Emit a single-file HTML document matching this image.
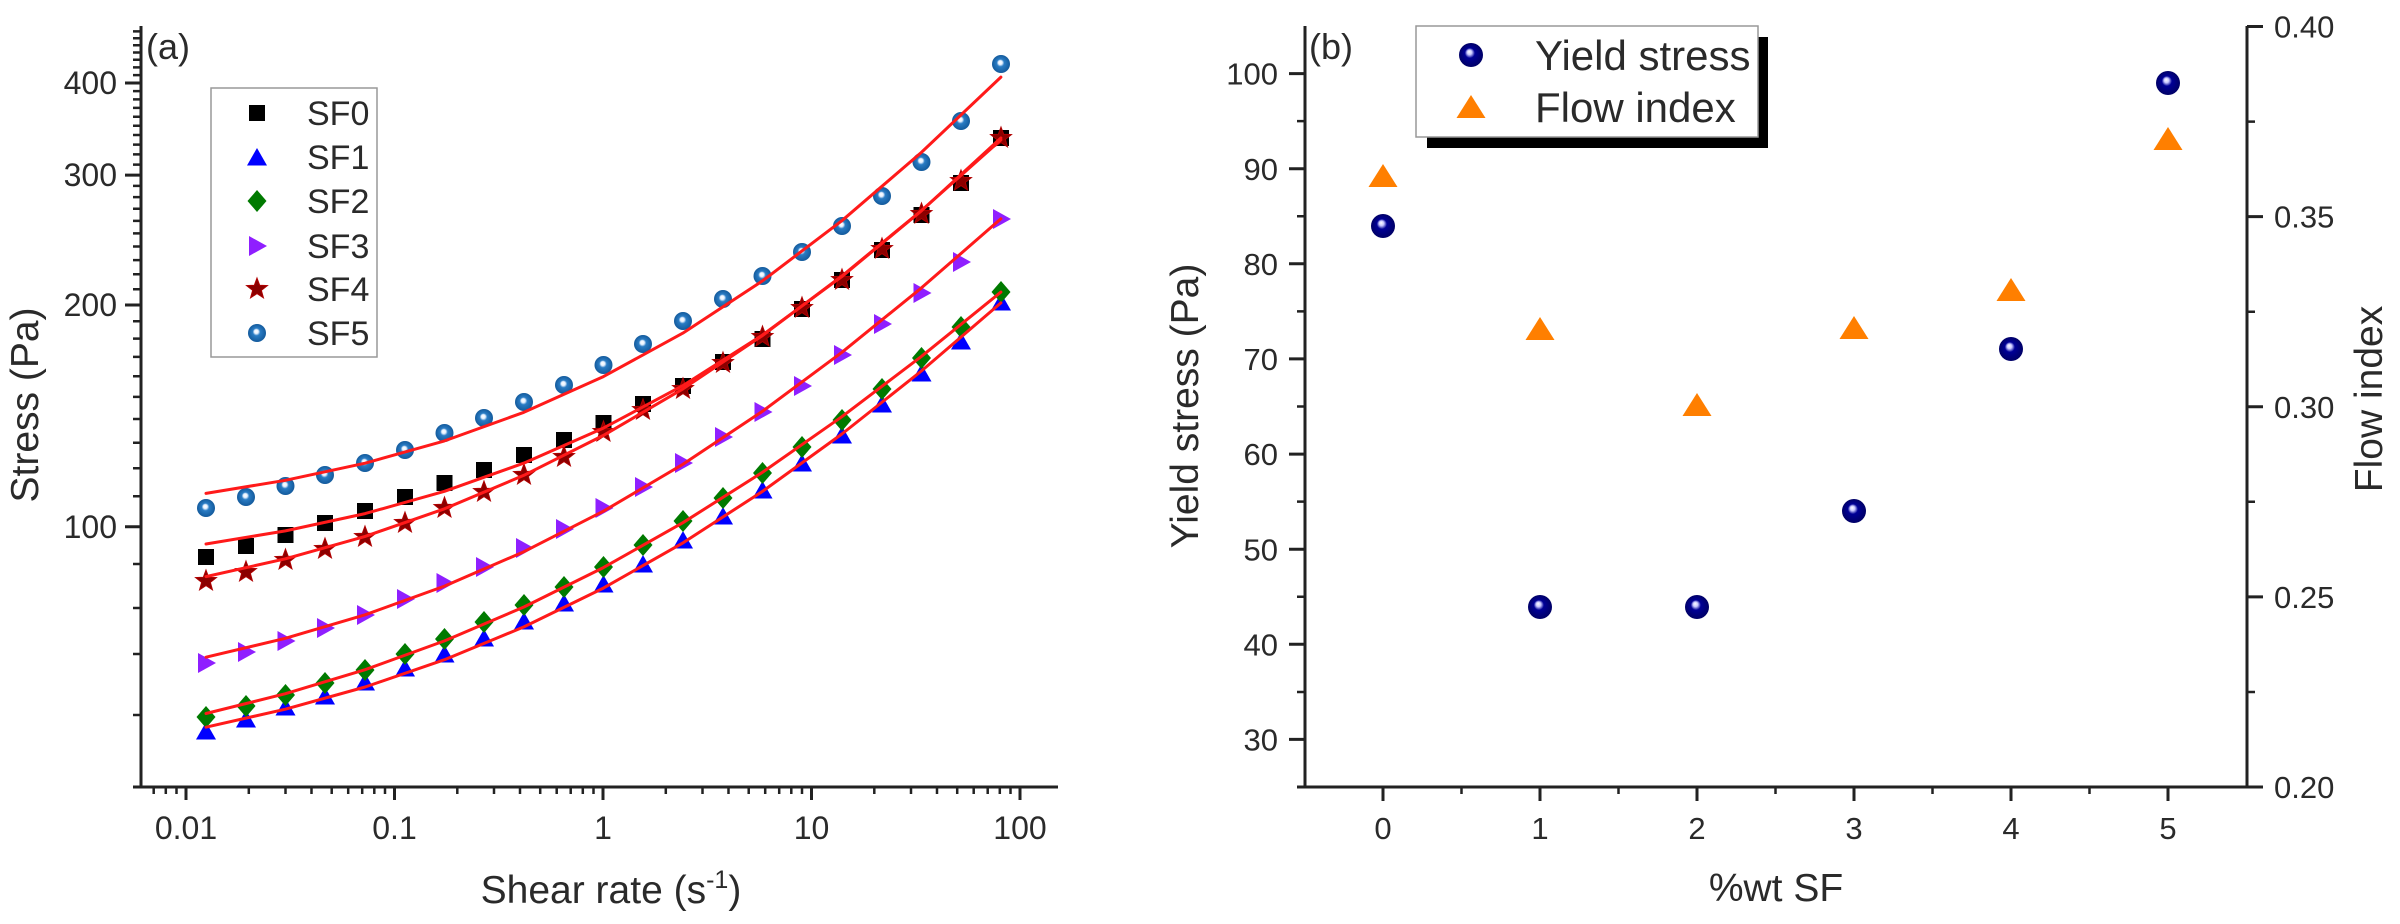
<!DOCTYPE html>
<html>
<head>
<meta charset="utf-8">
<style>
html,body{margin:0;padding:0;background:#fff;}
svg{display:block;}
</style>
</head>
<body>
<svg width="2400" height="924" viewBox="0 0 2400 924" xmlns="http://www.w3.org/2000/svg" font-family="'Liberation Sans', Arial, sans-serif">
<defs>
  <radialGradient id="gBlue" cx="0.5" cy="0.5" r="0.5" fx="0.45" fy="0.4">
    <stop offset="0" stop-color="#ffffff"/>
    <stop offset="0.22" stop-color="#e8f2ff"/>
    <stop offset="0.42" stop-color="#2a7cc4"/>
    <stop offset="1" stop-color="#135a9c"/>
  </radialGradient>
  <radialGradient id="gNavy" cx="0.5" cy="0.5" r="0.5" fx="0.42" fy="0.36">
    <stop offset="0" stop-color="#ffffff"/>
    <stop offset="0.2" stop-color="#c8c8ff"/>
    <stop offset="0.42" stop-color="#000096"/>
    <stop offset="1" stop-color="#000066"/>
  </radialGradient>
  <g id="sq"><rect x="-8" y="-8" width="16" height="16" fill="#000"/></g>
  <g id="tri"><path d="M0,-10 L10,7.5 L-10,7.5 Z" fill="#0000ff"/></g>
  <g id="dia"><path d="M0,-11 L9.5,0 L0,11 L-9.5,0 Z" fill="#007a00"/></g>
  <g id="rtri"><path d="M-8,-10 L10,0 L-8,10 Z" fill="#8f1fff"/></g>
  <g id="star"><path d="M0,-11 L2.7,-3.72 L10.46,-3.4 L4.37,1.42 L6.47,8.9 L0,4.6 L-6.47,8.9 L-4.37,1.42 L-10.46,-3.4 L-2.7,-3.72 Z" fill="#8b0000" stroke="#b00000" stroke-width="1"/></g>
  <g id="sph"><circle r="9" fill="url(#gBlue)"/></g>
  <g id="sphN"><circle r="12" fill="url(#gNavy)"/></g>
  <g id="otri"><path d="M0,-13 L14.5,10 L-14.5,10 Z" fill="#ff7f00"/></g>
</defs>

<rect width="2400" height="924" fill="#fff"/>

<!-- ================= PANEL (a) ================= -->
<g stroke="#222" stroke-width="3" fill="none">
  <path d="M141,26V788.5"/>
  <path d="M133,787H1058"/>
  <!-- major y ticks -->
  <path d="M125,83H141 M125,175.1H141 M125,305H141 M125,526.7H141"/>
  <!-- major x ticks -->
  <path d="M186,787V800 M394.5,787V800 M603,787V800 M811.5,787V800 M1020,787V800"/>
</g>
<g stroke="#222" stroke-width="2.5" fill="none">
  <!-- minor y ticks -->
  <path d="M133,496.2H141 M133,468.3H141 M133,442.7H141 M133,419H141 M133,396.9H141 M133,376.3H141 M133,356.9H141 M133,338.6H141 M133,321.3H141
           M133,289.2H141 M133,274.3H141 M133,260.1H141 M133,246.5H141 M133,233.4H141 M133,220.9H141 M133,208.8H141 M133,197.1H141 M133,185.9H141
           M133,164.6H141 M133,154.4H141 M133,144.6H141 M133,135H141 M133,125.7H141 M133,116.7H141 M133,107.9H141 M133,99.4H141 M133,91.1H141
           M133,75.1H141 M133,67.4H141 M133,59.8H141 M133,52.5H141 M133,45.3H141 M133,38.3H141 M133,31.4H141
           M133,564H141 M133,608H141 M133,654H141 M133,715H141"/>
  <!-- minor x ticks -->
  <path d="M153.7,787V794 M165.8,787V794 M176.5,787V794
           M248.8,787V794 M285.5,787V794 M311.5,787V794 M331.7,787V794 M348.2,787V794 M362.2,787V794 M374.3,787V794 M385,787V794
           M457.3,787V794 M494,787V794 M520,787V794 M540.2,787V794 M556.7,787V794 M570.7,787V794 M582.8,787V794 M593.5,787V794
           M665.8,787V794 M702.5,787V794 M728.5,787V794 M748.7,787V794 M765.2,787V794 M779.2,787V794 M791.3,787V794 M802,787V794
           M874.3,787V794 M911,787V794 M937,787V794 M957.2,787V794 M973.7,787V794 M987.7,787V794 M999.8,787V794 M1010.5,787V794"/>
</g>

<g fill="#2a2a2a" font-size="32" text-anchor="end">
  <text x="117" y="94">400</text>
  <text x="117" y="186">300</text>
  <text x="117" y="316">200</text>
  <text x="117" y="538">100</text>
</g>
<g fill="#2a2a2a" font-size="32" text-anchor="middle">
  <text x="186" y="839">0.01</text>
  <text x="394.5" y="839">0.1</text>
  <text x="603" y="839">1</text>
  <text x="811.5" y="839">10</text>
  <text x="1020" y="839">100</text>
</g>
<text x="611" y="903" text-anchor="middle" font-size="39" fill="#2a2a2a">Shear rate (s<tspan font-size="25" dy="-15">-1</tspan><tspan dy="15">)</tspan></text>
<text transform="translate(38,405) rotate(-90)" text-anchor="middle" font-size="39" fill="#2a2a2a">Stress (Pa)</text>
<text x="146" y="59" font-size="36" fill="#2a2a2a">(a)</text>

<!-- legend (a) -->
<rect x="211" y="88" width="166" height="269" fill="#fff" stroke="#999" stroke-width="1.5"/>
<use href="#sq" x="257" y="113"/>
<use href="#tri" x="257" y="158"/>
<use href="#dia" x="257" y="201"/>
<use href="#rtri" x="257" y="246"/>
<use href="#star" x="257" y="289"/>
<use href="#sph" x="257" y="333"/>
<g fill="#2a2a2a" font-size="34">
  <text x="307" y="125">SF0</text>
  <text x="307" y="169">SF1</text>
  <text x="307" y="213">SF2</text>
  <text x="307" y="258">SF3</text>
  <text x="307" y="301">SF4</text>
  <text x="307" y="345">SF5</text>
</g>

<!-- SF0 -->
<g>
<use href="#sq" x="206" y="557"/><use href="#sq" x="246" y="546"/><use href="#sq" x="285.5" y="535"/><use href="#sq" x="325" y="523"/><use href="#sq" x="365" y="511"/><use href="#sq" x="405" y="497"/><use href="#sq" x="444.5" y="483"/><use href="#sq" x="484" y="470"/><use href="#sq" x="524" y="455"/><use href="#sq" x="564" y="440"/><use href="#sq" x="603.5" y="423"/><use href="#sq" x="643" y="404"/><use href="#sq" x="683" y="386"/><use href="#sq" x="723" y="362"/><use href="#sq" x="762.5" y="339"/><use href="#sq" x="802" y="309"/><use href="#sq" x="842" y="280"/><use href="#sq" x="882" y="250"/><use href="#sq" x="921.5" y="215"/><use href="#sq" x="961" y="183"/><use href="#sq" x="1001" y="138"/>
</g>
<!-- SF1 -->
<g>
<use href="#tri" x="206" y="732"/><use href="#tri" x="246" y="720"/><use href="#tri" x="285.5" y="708"/><use href="#tri" x="325" y="697"/><use href="#tri" x="365" y="683"/><use href="#tri" x="405" y="669"/><use href="#tri" x="444.5" y="655"/><use href="#tri" x="484" y="639"/><use href="#tri" x="524" y="622"/><use href="#tri" x="564" y="604"/><use href="#tri" x="603.5" y="585"/><use href="#tri" x="643" y="565"/><use href="#tri" x="683" y="541"/><use href="#tri" x="723" y="517"/><use href="#tri" x="762.5" y="491"/><use href="#tri" x="802" y="464"/><use href="#tri" x="842" y="436"/><use href="#tri" x="882" y="405"/><use href="#tri" x="921.5" y="374"/><use href="#tri" x="961" y="342"/><use href="#tri" x="1001" y="303"/>
</g>
<!-- SF2 -->
<g>
<use href="#dia" x="206" y="717"/><use href="#dia" x="246" y="706"/><use href="#dia" x="285.5" y="695"/><use href="#dia" x="325" y="683"/><use href="#dia" x="365" y="670"/><use href="#dia" x="405" y="654"/><use href="#dia" x="444.5" y="639"/><use href="#dia" x="484" y="622"/><use href="#dia" x="524" y="605"/><use href="#dia" x="564" y="587"/><use href="#dia" x="603.5" y="567"/><use href="#dia" x="643" y="545"/><use href="#dia" x="683" y="521"/><use href="#dia" x="723" y="498"/><use href="#dia" x="762.5" y="473"/><use href="#dia" x="802" y="447"/><use href="#dia" x="842" y="420"/><use href="#dia" x="882" y="389"/><use href="#dia" x="921.5" y="358"/><use href="#dia" x="961" y="327"/><use href="#dia" x="1001" y="292"/>
</g>
<!-- SF3 -->
<g>
<use href="#rtri" x="206" y="663"/><use href="#rtri" x="246" y="652"/><use href="#rtri" x="285.5" y="641"/><use href="#rtri" x="325" y="628"/><use href="#rtri" x="365" y="615"/><use href="#rtri" x="405" y="599"/><use href="#rtri" x="444.5" y="583"/><use href="#rtri" x="484" y="567"/><use href="#rtri" x="524" y="548"/><use href="#rtri" x="564" y="529"/><use href="#rtri" x="603.5" y="508"/><use href="#rtri" x="643" y="487"/><use href="#rtri" x="683" y="463"/><use href="#rtri" x="723" y="437"/><use href="#rtri" x="762.5" y="412"/><use href="#rtri" x="802" y="386"/><use href="#rtri" x="842" y="355"/><use href="#rtri" x="882" y="324"/><use href="#rtri" x="921.5" y="293"/><use href="#rtri" x="961" y="262"/><use href="#rtri" x="1001" y="219"/>
</g>
<!-- SF4 -->
<g>
<use href="#star" x="206" y="581"/><use href="#star" x="246" y="572"/><use href="#star" x="285.5" y="560"/><use href="#star" x="325" y="549"/><use href="#star" x="365" y="537"/><use href="#star" x="405" y="523"/><use href="#star" x="444.5" y="508"/><use href="#star" x="484" y="492"/><use href="#star" x="524" y="475"/><use href="#star" x="564" y="457"/><use href="#star" x="603.5" y="432"/><use href="#star" x="643" y="410"/><use href="#star" x="683" y="389"/><use href="#star" x="723" y="363"/><use href="#star" x="762.5" y="337"/><use href="#star" x="802" y="308"/><use href="#star" x="842" y="280"/><use href="#star" x="882" y="249"/><use href="#star" x="921.5" y="214"/><use href="#star" x="961" y="181"/><use href="#star" x="1001" y="138"/>
</g>
<!-- SF5 -->
<g>
<use href="#sph" x="206" y="508"/><use href="#sph" x="246" y="497"/><use href="#sph" x="285.5" y="486"/><use href="#sph" x="325" y="475"/><use href="#sph" x="365" y="463"/><use href="#sph" x="405" y="450"/><use href="#sph" x="444.5" y="433"/><use href="#sph" x="484" y="418"/><use href="#sph" x="524" y="402"/><use href="#sph" x="564" y="385"/><use href="#sph" x="603.5" y="365"/><use href="#sph" x="643" y="344"/><use href="#sph" x="683" y="321"/><use href="#sph" x="723" y="299"/><use href="#sph" x="762.5" y="276"/><use href="#sph" x="802" y="252"/><use href="#sph" x="842" y="226"/><use href="#sph" x="882" y="196"/><use href="#sph" x="921.5" y="162"/><use href="#sph" x="961" y="121"/><use href="#sph" x="1001" y="64"/>
</g>

<!-- fit curves -->
<g fill="none" stroke="#ff1a1a" stroke-width="3" stroke-linejoin="round" stroke-linecap="round">
  <polyline points="206,544 285.4,530.9 365.1,513.6 444.5,491.3 523.9,463.1 603.4,428.1 682.9,385.6 762.3,335.1 841.9,276.6 921.4,210.8 1000.9,138"/>
  <polyline points="206,576.6 285.4,558.8 365.1,536.4 444.5,508.8 523.9,475.3 603.4,435.4 682.9,388.9 762.3,335.7 841.9,276 921.4,210.6 1000.9,139.9"/>
  <polyline points="206,493.4 285.4,480.3 365.1,463.2 444.5,440.9 523.9,412.3 603.4,376.6 682.9,333.1 762.3,281 841.9,220.7 921.4,152.4 1000.9,77.1"/>
  <polyline points="206,657.2 285.4,638.3 365.1,614.8 444.5,586.1 523.9,551.7 603.4,511.2 682.9,464.3 762.3,411.4 841.9,352.3 921.4,287.9 1000.9,218.8"/>
  <polyline points="206,713.5 285.4,693.7 365.1,669.7 444.5,640.9 523.9,607 603.4,567.6 682.9,522.7 762.3,472.4 841.9,416.7 921.4,356.4 1000.9,292.1"/>
  <polyline points="206,727.2 285.4,709.2 365.1,687 444.5,659.7 523.9,626.9 603.4,588.1 682.9,542.9 762.3,491.5 841.9,434 921.4,371 1000.9,302.9"/>
</g>

<!-- ================= PANEL (b) ================= -->
<g stroke="#222" stroke-width="3" fill="none">
  <path d="M1305,26V788.5"/>
  <path d="M1297,787H2248.5"/>
  <path d="M2247,26V788.5"/>
  <!-- left major -->
  <path d="M1289,739.4H1305 M1289,644.3H1305 M1289,549.2H1305 M1289,454.1H1305 M1289,358.9H1305 M1289,263.8H1305 M1289,168.7H1305 M1289,73.6H1305"/>
  <!-- right major -->
  <path d="M2247,787H2263 M2247,596.9H2263 M2247,406.8H2263 M2247,216.6H2263 M2247,26.5H2263"/>
  <!-- x major -->
  <path d="M1383,787V801 M1540,787V801 M1697,787V801 M1854,787V801 M2011,787V801 M2168,787V801"/>
</g>
<g stroke="#222" stroke-width="2.5" fill="none">
  <path d="M1297,692H1305 M1297,596.7H1305 M1297,501.6H1305 M1297,406.5H1305 M1297,311.4H1305 M1297,216.3H1305 M1297,121.1H1305"/>
  <path d="M2247,692H2255 M2247,501.8H2255 M2247,311.7H2255 M2247,121.6H2255"/>
  <path d="M1461.5,787V794 M1618.5,787V794 M1775.5,787V794 M1932.5,787V794 M2089.5,787V794"/>
</g>

<g fill="#2a2a2a" font-size="31" text-anchor="end">
  <text x="1278" y="750.5">30</text>
  <text x="1278" y="655.4">40</text>
  <text x="1278" y="560.3">50</text>
  <text x="1278" y="465.2">60</text>
  <text x="1278" y="370">70</text>
  <text x="1278" y="274.9">80</text>
  <text x="1278" y="179.8">90</text>
  <text x="1278" y="84.7">100</text>
</g>
<g fill="#2a2a2a" font-size="31">
  <text x="2274" y="798">0.20</text>
  <text x="2274" y="608">0.25</text>
  <text x="2274" y="417.8">0.30</text>
  <text x="2274" y="227.6">0.35</text>
  <text x="2274" y="37.5">0.40</text>
</g>
<g fill="#2a2a2a" font-size="31" text-anchor="middle">
  <text x="1383" y="839">0</text>
  <text x="1540" y="839">1</text>
  <text x="1697" y="839">2</text>
  <text x="1854" y="839">3</text>
  <text x="2011" y="839">4</text>
  <text x="2168" y="839">5</text>
</g>
<text x="1776" y="901" text-anchor="middle" font-size="39" fill="#2a2a2a">%wt SF</text>
<text transform="translate(1198,406) rotate(-90)" text-anchor="middle" font-size="39" fill="#2a2a2a">Yield stress (Pa)</text>
<text transform="translate(2382,399) rotate(-90)" text-anchor="middle" font-size="39" fill="#2a2a2a">Flow index</text>
<text x="1309" y="59" font-size="36" fill="#2a2a2a">(b)</text>

<!-- legend (b) -->
<rect x="1427" y="37" width="341" height="111" fill="#000"/>
<rect x="1416" y="26" width="342" height="111" fill="#fff" stroke="#999" stroke-width="1.5"/>
<use href="#sphN" x="1471" y="55"/>
<use href="#otri" x="1471" y="108"/>
<g fill="#2a2a2a" font-size="42">
  <text x="1535" y="70">Yield stress</text>
  <text x="1535" y="122">Flow index</text>
</g>

<!-- data (b) -->
<use href="#otri" x="1383" y="177"/>
<use href="#otri" x="1540" y="330"/>
<use href="#otri" x="1697" y="406"/>
<use href="#otri" x="1854" y="329"/>
<use href="#otri" x="2011" y="291"/>
<use href="#otri" x="2168" y="140"/>

<use href="#sphN" x="1383" y="226"/>
<use href="#sphN" x="1540" y="607"/>
<use href="#sphN" x="1697" y="607"/>
<use href="#sphN" x="1854" y="511"/>
<use href="#sphN" x="2011" y="349"/>
<use href="#sphN" x="2168" y="83"/>
</svg>
</body>
</html>
